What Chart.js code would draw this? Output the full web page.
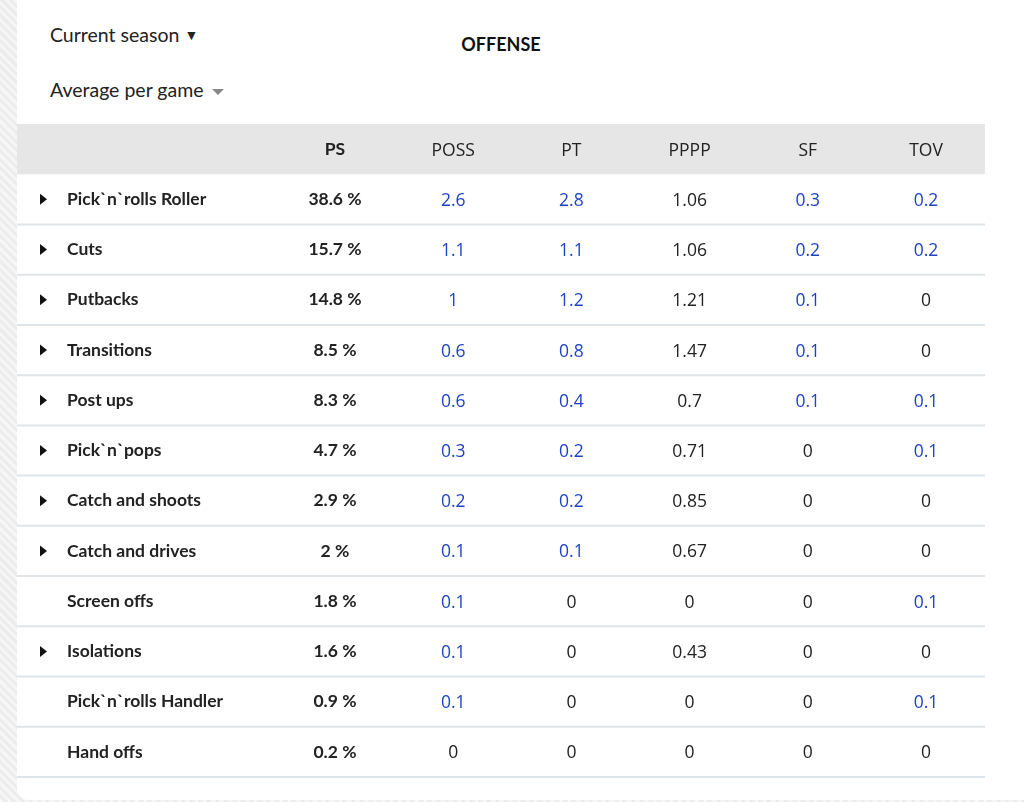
<!DOCTYPE html>
<html>
<head>
<meta charset="utf-8">
<script src="https://cdn.jsdelivr.net/npm/chart.js@4/dist/chart.umd.min.js"></script>
<style>
    html, body { margin: 0; padding: 0; }
    body {
        width: 1024px; height: 802px; overflow: hidden; position: relative;
        background: #f1f1f1 repeating-linear-gradient(45deg, #f6f6f6 0 3px, #ececec 3px 6px);
        font-family: Lato, "Open Sans", sans-serif;
    }
    .card {
        position: absolute; left: 17px; top: 0; width: 1020px; height: 800px;
        background: #fff; border-bottom-left-radius: 12px;
    }
    .dd { position: absolute; left: 33px; font-size: 19.5px; color: #222; }
    .dd .tri { font-size: 14px; vertical-align: 2px; }
    .dd .tri-gray { display: inline-block; margin-left: 9px; width: 0; height: 0; vertical-align: middle;
        border-left: 6px solid transparent; border-right: 6px solid transparent; border-top: 6px solid #888; }
    .title { position: absolute; left: 484px; top: 33px; width: 0; text-align: center; white-space: nowrap;
        font-weight: 700; font-size: 18px; color: #111; }
    .title span { display: inline-block; transform: translateX(-50%); }
    .chart-box { position: absolute; left: 0; top: 124px; width: 968px; height: 666px; }
</style>
</head>
<body>
<div class="card">
    <div class="dd" style="top:23px">Current season <span class="tri">&#9660;</span></div>
    <div class="dd" style="top:78px">Average per game<span class="tri-gray"></span></div>
    <div class="title"><span>OFFENSE</span></div>
    <div class="chart-box"><canvas id="offenseChart"></canvas></div>
</div>
<script>
const columns = ['PS', 'POSS', 'PT', 'PPPP', 'SF', 'TOV'];
const categories = [
    'Pick`n`rolls Roller', 'Cuts', 'Putbacks', 'Transitions', 'Post ups', 'Pick`n`pops',
    'Catch and shoots', 'Catch and drives', 'Screen offs', 'Isolations', 'Pick`n`rolls Handler', 'Hand offs'
];
const hasDetails = [true, true, true, true, true, true, true, true, false, true, false, false];
const ps   = [38.6, 15.7, 14.8, 8.5, 8.3, 4.7, 2.9, 2, 1.8, 1.6, 0.9, 0.2];
const poss = [2.6, 1.1, 1, 0.6, 0.6, 0.3, 0.2, 0.1, 0.1, 0.1, 0.1, 0];
const pt   = [2.8, 1.1, 1.2, 0.8, 0.4, 0.2, 0.2, 0.1, 0, 0, 0, 0];
const pppp = [1.06, 1.06, 1.21, 1.47, 0.7, 0.71, 0.85, 0.67, 0, 0.43, 0, 0];
const sf   = [0.3, 0.2, 0.1, 0.1, 0.1, 0, 0, 0, 0, 0, 0, 0];
const tov  = [0.2, 0.2, 0, 0, 0.1, 0.1, 0, 0, 0.1, 0, 0.1, 0];

const HEADER = '__header';
const BLUE = '#1f43c4';
const INK = '#222';
const BOLD = '700 17.5px Lato';
const REG = '17.5px "Open Sans"';
const colValues = [ps, poss, pt, pppp, sf, tov];
const linkCols = ['POSS', 'PT', 'SF', 'TOV'];

// one scatter dataset per column, one invisible point per cell
const datasets = columns.map((col, c) => ({
    label: col,
    data: colValues[c].map((v, r) => ({ x: c + 1, y: categories[r], v: v })),
    pointRadius: 0
}));
// header row and label column
datasets.push({ label: 'header', data: columns.map((col, c) => ({ x: c + 1, y: HEADER, v: col })), pointRadius: 0 });
datasets.push({ label: 'names', data: categories.map((name, r) => ({ x: -1.267, y: name, v: name })), pointRadius: 0 });

const tablePlugin = {
    id: 'tablePlugin',
    beforeDatasetsDraw(chart) {
        const { ctx, chartArea, scales } = chart;
        const y = scales.y;
        const band = y.getPixelForValue(1) - y.getPixelForValue(0);
        ctx.save();
        ctx.fillStyle = '#e6e6e6';
        ctx.fillRect(chartArea.left, chartArea.top, chartArea.width, band);
        ctx.strokeStyle = '#dfe5e8';
        ctx.lineWidth = 2;
        for (let r = 1; r <= categories.length; r++) {
            const py = y.getPixelForValue(r) + band / 2;
            ctx.beginPath();
            ctx.moveTo(chartArea.left, py);
            ctx.lineTo(chartArea.right, py);
            ctx.stroke();
        }
        ctx.restore();
    },
    afterDatasetsDraw(chart) {
        const { ctx } = chart;
        ctx.save();
        ctx.textBaseline = 'middle';
        chart.data.datasets.forEach((ds, d) => {
            const meta = chart.getDatasetMeta(d);
            meta.data.forEach((pt, i) => {
                const raw = ds.data[i];
                if (ds.label === 'names') {
                    ctx.textAlign = 'left';
                    ctx.font = BOLD;
                    ctx.fillStyle = INK;
                    ctx.fillText(raw.v, pt.x, pt.y);
                    if (hasDetails[i]) {
                        ctx.fillStyle = '#111';
                        ctx.beginPath();
                        ctx.moveTo(pt.x - 27, pt.y - 5.5);
                        ctx.lineTo(pt.x - 20, pt.y);
                        ctx.lineTo(pt.x - 27, pt.y + 5.5);
                        ctx.closePath();
                        ctx.fill();
                    }
                    return;
                }
                ctx.textAlign = 'center';
                if (ds.label === 'header') {
                    ctx.font = raw.v === 'PS' ? BOLD : REG;
                    ctx.fillStyle = INK;
                    ctx.fillText(raw.v, pt.x, pt.y + (raw.v === 'PS' ? 0 : 1.5));
                } else if (ds.label === 'PS') {
                    ctx.font = BOLD;
                    ctx.fillStyle = INK;
                    ctx.fillText(raw.v + ' %', pt.x, pt.y);
                } else {
                    ctx.font = REG;
                    ctx.fillStyle = (linkCols.includes(ds.label) && raw.v !== 0) ? BLUE : INK;
                    ctx.fillText(String(raw.v), pt.x, pt.y + 1.5);
                }
            });
        });
        ctx.restore();
    }
};

new Chart(document.getElementById('offenseChart'), {
    type: 'scatter',
    data: { datasets: datasets },
    options: {
        responsive: true,
        maintainAspectRatio: false,
        animation: false,
        layout: { padding: { top: 0, bottom: 13, left: 0, right: 0 } },
        plugins: { legend: { display: false }, tooltip: { enabled: false } },
        scales: {
            x: { type: 'linear', min: -1.69, max: 6.499, display: false },
            y: { type: 'category', labels: [HEADER].concat(categories), offset: true, display: false }
        }
    },
    plugins: [tablePlugin]
});
</script>
</body>
</html>
